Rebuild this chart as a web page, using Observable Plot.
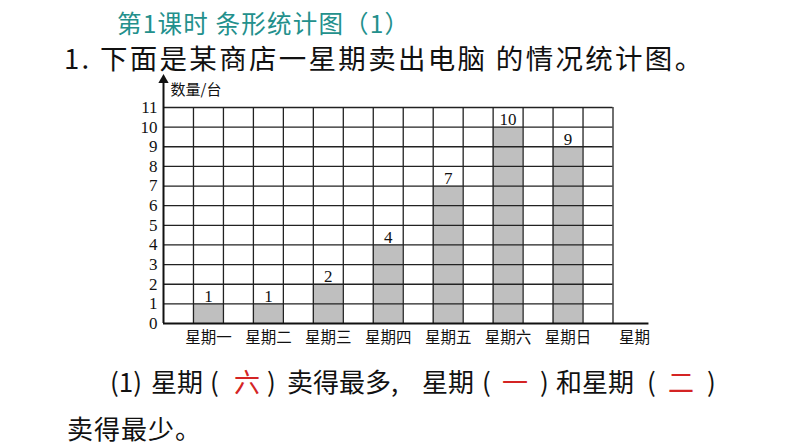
<!DOCTYPE html>
<html>
<head>
<meta charset="utf-8">
<script src="https://cdn.jsdelivr.net/npm/d3@7"></script>
<script src="https://cdn.jsdelivr.net/npm/@observablehq/plot@0.6"></script>
<style>
  html, body { margin: 0; padding: 0; background: #fff; }
  body { width: 794px; height: 447px; position: relative; overflow: hidden; }
  .t { position: absolute; white-space: nowrap; line-height: 1; font-family: "Noto Sans CJK SC", sans-serif; }
  #title { left: 117px; top: 11px; font-size: 24.5px; color: #23908c; letter-spacing: 1.2px; }
  #q { left: 64px; top: 44px; font-size: 27.5px; color: #111; letter-spacing: 2.3px; }
  .a { font-size: 26px; color: #111; top: 368px; }
  .red { color: #d42424; }
  #a2 { left: 67px; top: 415px; font-size: 26px; color: #111; letter-spacing: 1px; }
  #chart { position: absolute; left: 0; top: 70px; }
</style>
</head>
<body>
<div class="t" id="title">第1课时 条形统计图（1）</div>
<div class="t" id="q">1. 下面是某商店一星期卖出电脑 的情况统计图。</div>
<div class="t a" style="left:110px">(1)</div>
<div class="t a" style="left:151px">星期</div>
<div class="t a" style="left:210px">(</div>
<div class="t a red" style="left:234px">六</div>
<div class="t a" style="left:267px">)</div>
<div class="t a" style="left:287px">卖得最多,</div>
<div class="t a" style="left:422px">星期</div>
<div class="t a" style="left:482px">(</div>
<div class="t a red" style="left:502px">一</div>
<div class="t a" style="left:540px">)</div>
<div class="t a" style="left:556px">和星期</div>
<div class="t a" style="left:647px">(</div>
<div class="t a red" style="left:668px">二</div>
<div class="t a" style="left:707px">)</div>
<div class="t" id="a2">卖得最少。</div>
<div id="chart"></div>
<script>
const days = ["星期一", "星期二", "星期三", "星期四", "星期五", "星期六", "星期日"];
const sales = [1, 1, 2, 4, 7, 10, 9];
const yTicks = [0, 1, 2, 3, 4, 5, 6, 7, 8, 9, 10, 11];
const yMax = 11;
const xUnits = 15; // 7 bars + 8 gaps, one grid column each
const xAxisLabel = "星期";
const yAxisLabel = "数量/台";

const rows = days.map((d, i) => ({ day: d, value: sales[i], x1: 2 * i + 1, x2: 2 * i + 2, xc: 2 * i + 1.5 }));
const vLines = d3.range(1, xUnits + 1);
const hLines = yTicks.filter(v => v > 0);

const serif = "Liberation Serif, Times New Roman, serif";
const cjk = "Noto Sans CJK SC, sans-serif";

const plot = Plot.plot({
  width: 794,
  height: 280,
  marginLeft: 163,
  marginRight: 181.5,
  marginTop: 37,
  marginBottom: 27,
  x: { domain: [0, xUnits] },
  y: { domain: [0, yMax] },
  style: { background: "transparent", overflow: "visible" },
  marks: [
    Plot.rectY(rows, { x1: "x1", x2: "x2", y: "value", fill: "#bfbfbf" }),
    Plot.ruleY(hLines, { x1: 0, x2: xUnits, y: d => d, stroke: "#222", strokeWidth: 1.3 }),
    Plot.ruleX(vLines, { x: d => d, y1: 0, y2: yMax, stroke: "#222", strokeWidth: 1.3 }),
    Plot.ruleY([0], { x1: 0, x2: xUnits + 1.2, y: d => d, stroke: "#111", strokeWidth: 2 }),
    Plot.ruleX([0], { x: d => d, y1: 0, y2: yMax + 1.4, stroke: "#111", strokeWidth: 2 }),
    Plot.dot([0], { x: d => d, y: yMax + 1.4, symbol: "triangle", r: 3.8, fill: "#111", stroke: "none" }),
    Plot.text([yAxisLabel], { x: 0, y: yMax + 0.86, text: d => d, textAnchor: "start", dx: 7, fontSize: 15, fontFamily: cjk, fill: "#111" }),
    Plot.text(rows, { x: "xc", y: "value", text: d => String(d.value), lineAnchor: "bottom", dy: -2, fontSize: 17, fontFamily: serif, fill: "#111" }),
    Plot.axisY({ ticks: yTicks, tickSize: 0, tickPadding: 6, fontSize: 17, fontFamily: serif, label: null, tickFormat: d => String(d), fill: "#111" }),
    Plot.axisX({ ticks: rows.map(r => r.xc), tickSize: 0, tickPadding: 8, fontSize: 15.5, fontFamily: cjk, label: null, tickFormat: (d, i) => days[i], fill: "#111" }),
    Plot.text([xAxisLabel], { x: xUnits + 0.72, y: 0, text: d => d, lineAnchor: "top", dy: 8, fontSize: 15.5, fontFamily: cjk, fill: "#111" })
  ]
});
document.getElementById("chart").appendChild(plot);
</script>
</body>
</html>
